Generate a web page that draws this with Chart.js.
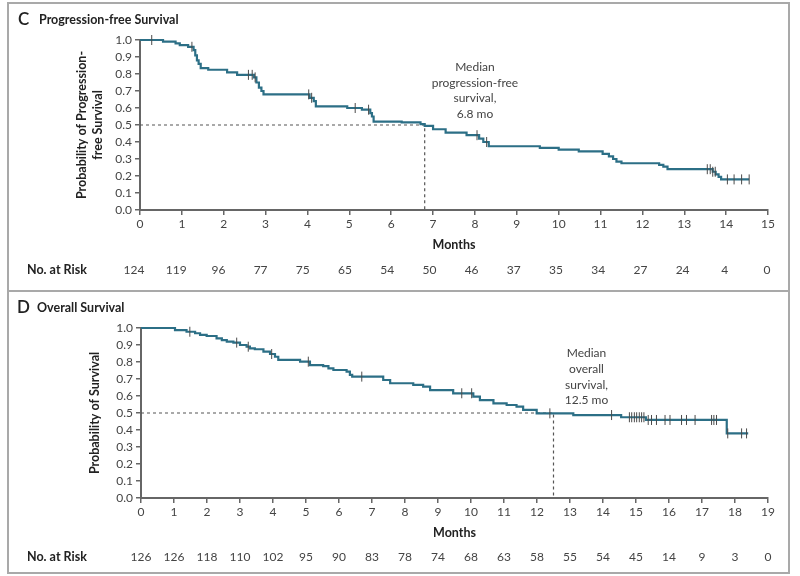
<!DOCTYPE html>
<html><head><meta charset="utf-8">
<script src="https://cdn.jsdelivr.net/npm/chart.js@4.4.0/dist/chart.umd.min.js"></script>
<style>
html,body{margin:0;padding:0;background:#fff;}
#wrap{position:relative;width:800px;height:576px;overflow:hidden;background:#fff;}
.box{position:absolute;border:2px solid #a9a9a9;box-sizing:border-box;}
canvas{position:absolute;left:0;}
</style></head><body>
<div id="wrap">
<div class="box" style="left:7px;top:2px;width:783px;height:290px;"></div>
<div class="box" style="left:7px;top:290px;width:783px;height:284px;"></div>
<canvas id="c1" width="800" height="290" style="top:0"></canvas>
<canvas id="c2" width="800" height="286" style="top:290px"></canvas>
</div>
<script>
// ---------- Panel C: progression-free survival ----------
const pfsTime = [0, 0.55, 0.85, 0.95, 1.15, 1.28, 1.32, 1.36, 1.40, 1.45, 1.63, 2.08, 2.32, 2.72, 2.78, 2.84, 2.90, 2.95, 4.05, 4.15, 4.2, 4.95, 5.3, 5.5, 5.54, 5.58, 6.25, 6.7, 6.8, 7.0, 7.3, 7.8, 8.1, 8.2, 8.33, 9.55, 10.0, 10.48, 11.05, 11.2, 11.3, 11.38, 11.5, 12.4, 12.5, 12.6, 13.68, 13.75, 13.82, 13.88, 14.55];
const pfsSurv = [1.0, 0.99, 0.98, 0.97, 0.96, 0.94, 0.91, 0.88, 0.86, 0.835, 0.825, 0.81, 0.795, 0.78, 0.75, 0.72, 0.70, 0.68, 0.66, 0.64, 0.61, 0.60, 0.59, 0.57, 0.55, 0.52, 0.515, 0.505, 0.495, 0.475, 0.455, 0.44, 0.42, 0.40, 0.375, 0.365, 0.355, 0.345, 0.33, 0.315, 0.30, 0.285, 0.275, 0.265, 0.255, 0.24, 0.225, 0.21, 0.195, 0.18, 0.18];
const pfsCensor = [0.28, 1.24, 2.59, 2.68, 2.75, 4.03, 4.1, 5.14, 5.46, 8.05, 8.28, 13.55, 13.62, 13.68, 13.74, 14.03, 14.19, 14.37, 14.55];
const pfsRisk = [124, 119, 96, 77, 75, 65, 54, 50, 46, 37, 35, 34, 27, 24, 4, 0];
const pfsMedian = 6.8;
const pfsNote = ['Median', 'progression-free', 'survival,', '6.8 mo'];

// ---------- Panel D: overall survival ----------
const osTime = [0, 1.03, 1.38, 1.64, 1.79, 1.99, 2.29, 2.45, 2.6, 2.8, 3.0, 3.2, 3.3, 3.45, 3.71, 3.91, 4.06, 4.16, 4.82, 5.12, 5.52, 5.68, 5.83, 6.23, 6.33, 6.4, 7.34, 7.55, 8.25, 8.55, 8.76, 9.46, 10.07, 10.27, 10.68, 11.08, 11.38, 11.58, 11.99, 13.1, 14.55, 15.3, 17.75, 18.4];
const osSurv = [1.0, 0.988, 0.978, 0.969, 0.959, 0.953, 0.939, 0.929, 0.92, 0.914, 0.90, 0.89, 0.88, 0.875, 0.861, 0.847, 0.831, 0.812, 0.802, 0.782, 0.776, 0.763, 0.753, 0.743, 0.724, 0.714, 0.694, 0.675, 0.665, 0.655, 0.635, 0.616, 0.596, 0.576, 0.557, 0.547, 0.537, 0.518, 0.498, 0.488, 0.475, 0.459, 0.38, 0.38];
const osCensor = [1.48, 2.9, 3.25, 3.96, 5.07, 6.69, 9.72, 10.02, 12.39, 14.26, 14.8, 14.87, 14.95, 15.02, 15.1, 15.17, 15.24, 15.37, 15.47, 15.62, 15.88, 16.03, 16.38, 16.53, 16.79, 17.29, 17.36, 17.44, 17.78, 18.2, 18.35];
const osRisk = [126, 126, 118, 110, 102, 95, 90, 83, 78, 74, 68, 63, 58, 55, 54, 45, 14, 9, 3, 0];
const osMedian = 12.5;
const osNote = ['Median', 'overall', 'survival,', '12.5 mo'];

const FONT = 'Lato, "Open Sans", sans-serif';
const CURVE = '#2c6f86';

function kmPoints(t, s) { return t.map((x, i) => ({x: x, y: s[i]})); }
function survAt(t, s, x) { let v = s[0]; for (let i = 0; i < t.length; i++) { if (t[i] <= x) v = s[i]; } return v; }
function censorPoints(c, t, s) { return c.map(x => ({x: x, y: survAt(t, s, x)})); }

const extras = {
  id: 'extras',
  afterDraw(chart, args, o) {
    const ctx = chart.ctx, xs = chart.scales.x, ys = chart.scales.y;
    ctx.save();
    ctx.textBaseline = 'middle';
    ctx.textAlign = 'left';
    ctx.fillStyle = '#222';
    ctx.font = '600 17px ' + FONT;
    ctx.fillText(o.letter, o.letterX, o.titleY);
    ctx.font = 'bold 12.5px ' + FONT;
    ctx.fillText(o.title, o.titleX, o.titleY);
    // median note
    ctx.font = '12px ' + FONT;
    ctx.fillStyle = '#444';
    ctx.textAlign = 'center';
    const nx = xs.getPixelForValue(o.noteX), ny = ys.getPixelForValue(o.noteY);
    o.note.forEach((l, i) => ctx.fillText(l, nx, ny + i * 15.7));
    // number at risk
    ctx.font = 'bold 12.5px ' + FONT;
    ctx.fillStyle = '#222';
    ctx.textAlign = 'left';
    ctx.fillText('No. at Risk', 27, o.riskY);
    ctx.font = '12px ' + FONT;
    ctx.fillStyle = '#444';
    ctx.textAlign = 'center';
    const n = o.risk.length - 1;
    o.risk.forEach((v, i) => ctx.fillText(String(v), xs.getPixelForValue(i) + o.riskShift0 * (1 - i / n) + o.riskShift1 * (i / n), o.riskY));
    ctx.restore();
  }
};

function makeChart(id, c) {
  return new Chart(document.getElementById(id), {
    type: 'line',
    data: {datasets: [
      {type: 'scatter', label: 'Censored', data: censorPoints(c.censor, c.time, c.surv), showLine: false,
       pointStyle: 'line', pointRotation: 90, pointRadius: 5, pointHoverRadius: 5,
       pointBorderColor: '#4a4a4a', pointBackgroundColor: '#4a4a4a', pointBorderWidth: 1, clip: false},
      {label: 'Survival', data: kmPoints(c.time, c.surv), stepped: true, borderColor: CURVE, borderWidth: 2.2,
       pointRadius: 0, fill: false, clip: false},
      {label: 'Median', data: [{x: 0, y: 0.5}, {x: c.median, y: 0.5}, {x: c.median, y: 0}], borderColor: '#555',
       borderWidth: 1.2, borderDash: [3, 3], pointRadius: 0, fill: false}
    ]},
    options: {
      responsive: false, animation: false, devicePixelRatio: 1,
      layout: {padding: {left: 0, right: 32, top: c.top, bottom: 0}},
      plugins: {legend: {display: false}, tooltip: {enabled: false},
        extras: {letter: c.letter, letterX: c.letterX, title: c.title, titleX: c.titleX, titleY: c.titleY,
                 note: c.note, noteX: c.noteX, noteY: c.noteY, risk: c.risk, riskY: c.riskY,
                 riskShift0: c.riskShift0, riskShift1: c.riskShift1}},
      scales: {
        x: {type: 'linear', min: 0, max: c.xmax,
            ticks: {stepSize: 1, autoSkip: false, maxRotation: 0, padding: 2, color: '#444', font: {family: FONT, size: 12}},
            grid: {drawOnChartArea: false, drawTicks: true, tickLength: 5, color: '#666', lineWidth: 1.5},
            border: {color: '#666', width: 2},
            title: {display: true, text: 'Months', color: '#222', font: {family: FONT, size: 12.5, weight: 'bold'},
                    padding: {top: 0, bottom: c.monthsPad}},
            afterFit(s) { s.height = c.xh; }},
        y: {min: 0, max: 1,
            ticks: {stepSize: 0.1, autoSkip: false, padding: 3, color: '#444', font: {family: FONT, size: 12},
                    callback: v => Number(v).toFixed(1)},
            grid: {drawOnChartArea: false, drawTicks: true, tickLength: 5, color: '#666', lineWidth: 1.5},
            border: {color: '#666', width: 2},
            title: {display: true, text: c.ytitle, color: '#222',
                    font: {family: FONT, size: 12.5, weight: 'bold', lineHeight: 1.3},
                    padding: {top: c.yTitlePad, bottom: 0}},
            afterFit(s) { s.width = c.yw; }}
      }
    },
    plugins: [extras]
  });
}

makeChart('c1', {time: pfsTime, surv: pfsSurv, censor: pfsCensor, median: pfsMedian, risk: pfsRisk,
  note: pfsNote, noteX: 8.0, noteY: 0.841, letter: 'C', letterX: 18, title: 'Progression-free Survival',
  titleX: 39, titleY: 20, riskY: 270, top: 40, xh: 80, yw: 140, xmax: 15, monthsPad: 38,
  riskShift0: -6, riskShift1: -1,
  ytitle: ['Probability of Progression-', 'free Survival'], yTitlePad: 74});

makeChart('c2', {time: osTime, surv: osSurv, censor: osCensor, median: osMedian, risk: osRisk,
  note: osNote, noteX: 13.5, noteY: 0.851, letter: 'D', letterX: 17, title: 'Overall Survival',
  titleX: 37, titleY: 18, riskY: 267, top: 38, xh: 78, yw: 141, xmax: 19, monthsPad: 36,
  riskShift0: 0, riskShift1: 0,
  ytitle: 'Probability of Survival', yTitlePad: 87});
</script>
</body></html>
